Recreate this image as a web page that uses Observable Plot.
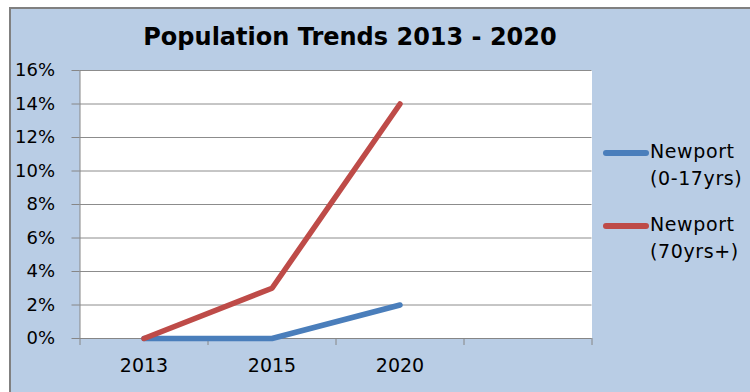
<!DOCTYPE html>
<html>
<head>
<meta charset="utf-8">
<script src="https://cdn.jsdelivr.net/npm/d3@7"></script>
<script src="https://cdn.jsdelivr.net/npm/@observablehq/plot@0.6"></script>
<style>
  html, body { margin: 0; padding: 0; background: #ffffff; }
  #wrap { position: relative; width: 750px; height: 392px; overflow: hidden; background: #ffffff; font-family: "DejaVu Sans", sans-serif; }
  #panel { position: absolute; left: 9px; top: 7px; width: 750px; height: 400px; background: #b9cde5; border-left: 2px solid #808080; border-top: 2px solid #808080; box-sizing: border-box; }
  #title { position: absolute; left: 0; width: 700px; top: 23px; text-align: center; font-weight: bold; font-size: 24px; color: #000; }
  #chart { position: absolute; left: 0; top: 60px; }
  #legend { position: absolute; left: 603px; top: 0; font-size: 19px; color: #000; letter-spacing: 0.6px; }
  .item { position: absolute; left: 0; width: 150px; }
  .sw { position: absolute; left: 0; width: 46px; height: 6px; border-radius: 3px; }
  .lab { position: absolute; left: 47px; line-height: 27px; white-space: nowrap; }
</style>
</head>
<body>
<div id="wrap">
  <div id="panel"></div>
  <div id="title"></div>
  <div id="chart"></div>
  <div id="legend"></div>
</div>
<script>
const title = "Population Trends 2013 - 2020";
const categories = ["2013", "2015", "2020"];
const slots = 4; // Excel category axis has an extra empty slot
const seriesNames = ["Newport (0-17yrs)", "Newport (70yrs+)"];
const legendLines = [["Newport", "(0-17yrs)"], ["Newport", "(70yrs+)"]];
const youngValues = [0, 0, 0.02];
const olderValues = [0, 0.03, 0.14];
const colors = ["#4a7ebb", "#be4b48"];
const yTicks = [0, 0.02, 0.04, 0.06, 0.08, 0.10, 0.12, 0.14, 0.16];

document.getElementById("title").textContent = title;

const rows = [];
categories.forEach((c, i) => {
  rows.push({series: seriesNames[0], pos: i + 0.5, value: youngValues[i]});
});
categories.forEach((c, i) => {
  rows.push({series: seriesNames[1], pos: i + 0.5, value: olderValues[i]});
});

const boundaries = d3.range(0, slots + 1);
const labelPos = categories.map((c, i) => i + 0.5);

const chart = Plot.plot({
  width: 750,
  height: 332,
  marginTop: 10,
  marginBottom: 54,
  marginLeft: 79.5,
  marginRight: 158.5,
  style: {background: "transparent", fontFamily: "DejaVu Sans, sans-serif", fontSize: "18px", color: "#000"},
  x: {type: "linear", domain: [0, slots]},
  y: {domain: [0, 0.16]},
  color: {domain: seriesNames, range: colors},
  marks: [
    Plot.frame({fill: "#ffffff", stroke: null}),
    Plot.gridY(yTicks, {stroke: "#8c8c8c", strokeOpacity: 1, strokeWidth: 1}),
    Plot.axisY({ticks: yTicks, tickFormat: d3.format(".0%"), tickSize: 8, tickPadding: 17, stroke: "#868686", fill: "#000", fontSize: 18, label: null}),
    Plot.ruleX([0], {stroke: "#868686"}),
    Plot.axisX({ticks: boundaries, tickFormat: () => "", tickSize: 7, stroke: "#868686", label: null}),
    Plot.axisX({ticks: labelPos, tickFormat: (d) => categories[Math.round(d - 0.5)], tickSize: 0, tickPadding: 20, fill: "#000", fontSize: 19, label: null}),
    Plot.ruleY([0], {stroke: "#868686"}),
    Plot.line(rows, {x: "pos", y: "value", z: "series", stroke: "series", strokeWidth: 5.5, strokeLinecap: "round", strokeLinejoin: "round"})
  ]
});
document.getElementById("chart").appendChild(chart);

const legend = document.getElementById("legend");
const swY = [152.5, 225.5];
legendLines.forEach((lines, i) => {
  const item = document.createElement("div");
  item.className = "item";
  item.style.top = (swY[i] - 3) + "px";
  const sw = document.createElement("div");
  sw.className = "sw";
  sw.style.background = colors[i];
  item.appendChild(sw);
  const lab = document.createElement("div");
  lab.className = "lab";
  lab.style.top = "-12px";
  lab.innerHTML = lines.join("<br>");
  item.appendChild(lab);
  legend.appendChild(item);
});
</script>
</body>
</html>
